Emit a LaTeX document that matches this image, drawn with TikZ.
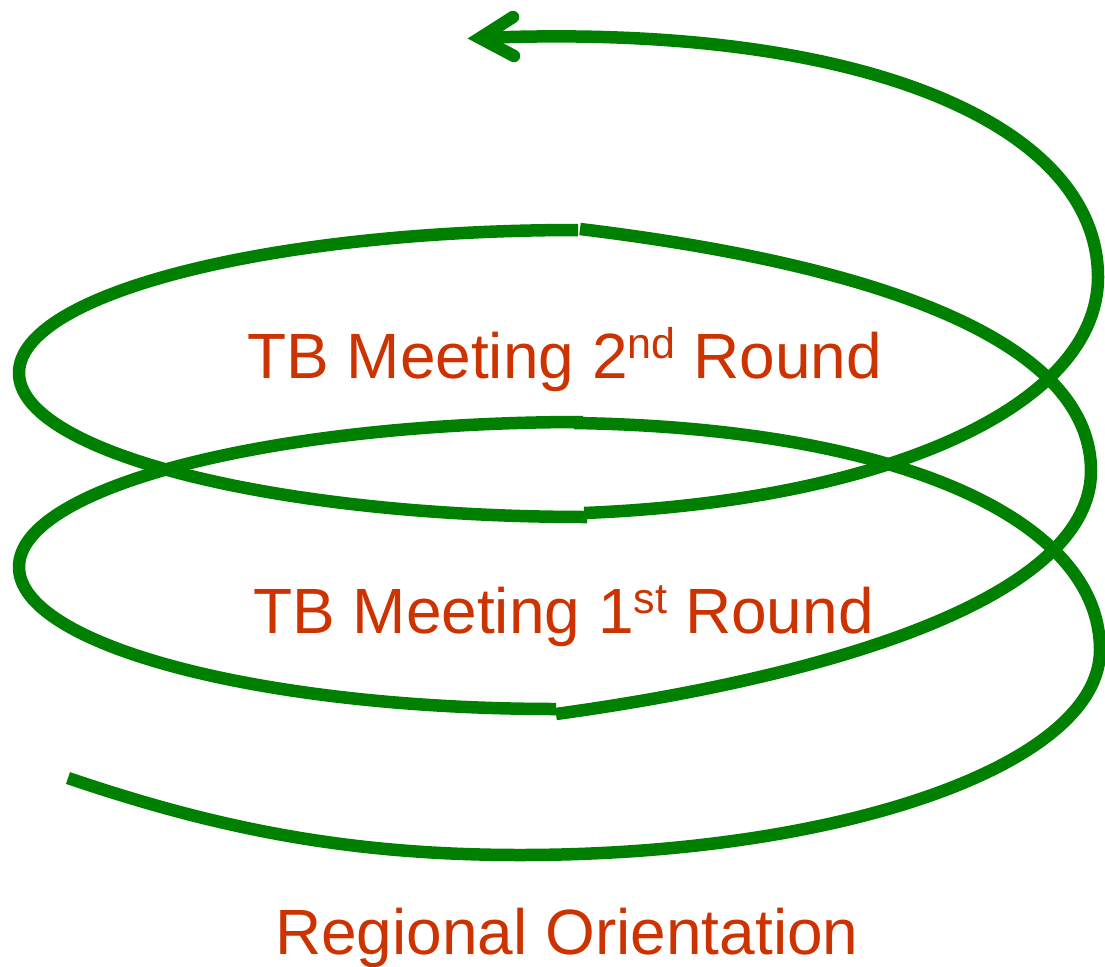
\documentclass[tikz,border=0pt]{standalone}
\usepackage{fontspec}
\setmainfont{Liberation Sans}
\usetikzlibrary{arrows.meta}
\definecolor{spiral}{RGB}{0,128,0}
\definecolor{lbl}{RGB}{204,51,0}
\newcommand\supx[1]{\raisebox{0.3em}{\fontsize{43}{43}\selectfont #1}}
\begin{document}
\begin{tikzpicture}[x=1pt,y=-1pt,
  coil/.style={draw=spiral,line width=12.5pt},
  head/.style={draw=spiral,line width=12.5pt,line cap=round,line join=miter},
  lab/.style={text=lbl,font=\fontsize{64}{64}\selectfont,inner sep=0pt,anchor=base west}]
\useasboundingbox (0,0) rectangle (1105,966);
% piece 1 (bottom, start)
\draw[coil] (68,778) .. controls (218,829) and (350,855) .. (520,855)
  .. controls (840,855) and (1100,765) .. (1100,650)
  .. controls (1100,520) and (900,428) .. (574,423);
% piece 2
\draw[coil] (583,422) .. controls (272,422) and (19,487) .. (19,567)
  .. controls (19,645) and (260,709) .. (556,709);
% piece 3
\draw[coil] (556,714) .. controls (860,672) and (1091,590) .. (1091,471)
  .. controls (1091,351) and (910,269) .. (580,229);
% piece 4
\draw[coil] (578,230) .. controls (269,230) and (19,294) .. (19,373)
  .. controls (19,452) and (273,517) .. (587,517);
% piece 5 (top, ends in the arrow head)
\coordinate (tip) at (480,38);
\draw[coil] (584,513)
  .. controls (884,501) and (1098,407) .. (1098,277)
  .. controls (1098,127) and (868,22) .. (tip);
\draw[head] (513,17) -- (tip) -- (514,56);
\node[lab] (t2) at (247,378) {TB Meeting 2\supx{nd} Round};
\node[lab] (t1) at (253,633) {TB Meeting 1\supx{st} Round};
\node[lab] (t0) at (275,954) {Regional Orientation};
\end{tikzpicture}
\end{document}
